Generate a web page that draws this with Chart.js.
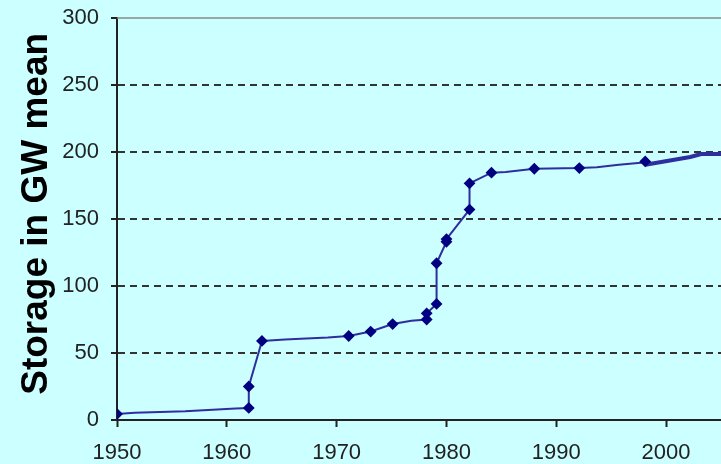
<!DOCTYPE html>
<html>
<head>
<meta charset="utf-8">
<script src="https://cdn.jsdelivr.net/npm/chart.js@4/dist/chart.umd.min.js"></script>
<style>
  html, body { margin: 0; padding: 0; background: #ccffff; }
  #wrap { width: 721px; height: 464px; }
</style>
</head>
<body>
<div id="wrap"><canvas id="storageChart" width="721" height="464"></canvas></div>
<script>
"use strict";

// line vertices (year, GW mean)
const years = [1950, 1951.6, 1956.2, 1960.8, 1962, 1962, 1963.2, 1965.3, 1969.2, 1971.1, 1973.1, 1975.1, 1976.8,
  1978.2, 1978.2, 1979.1, 1979.1, 1980, 1980, 1982.1, 1982.1, 1984.1, 1985.4, 1988, 1992.1, 1993.7, 1995.7,
  1997.7, 1998.1];
const storage = [4.5, 5.5, 6.5, 8.5, 9, 25, 59, 60, 61.5, 62.7, 66, 71.6, 74,
  75, 79.6, 86.6, 117, 133, 135, 157, 176.6, 184.6, 185, 187.5, 188, 188.6, 190.5,
  192, 193];
// which vertices carry a marker
const marked = [1, 0, 0, 0, 1, 1, 1, 0, 0, 1, 1, 1, 0,
  1, 1, 1, 1, 1, 1, 1, 1, 1, 0, 1, 1, 0, 0,
  0, 1];

// heavier tail of the curve after 1998
const tailYears = [1998.1, 2002.2, 2003.2, 2005];
const tailStorage = [190.5, 196.3, 198.5, 198.5];

const yTicks = [0, 50, 100, 150, 200, 250, 300];
const xTicks = [1950, 1960, 1970, 1980, 1990, 2000];

const lineColor = "#2e2e9e";
const markerColor = "#000080";
const tickFont = { family: "'Liberation Sans', Arial, sans-serif", size: 22 };

const topBorder = {
  id: "topBorder",
  afterDraw(chart) {
    const { ctx, chartArea } = chart;
    ctx.save();
    ctx.strokeStyle = "#888888";
    ctx.lineWidth = 1.5;
    ctx.beginPath();
    ctx.moveTo(chartArea.left, chartArea.top);
    ctx.lineTo(chartArea.right, chartArea.top);
    ctx.stroke();
    ctx.restore();
  },
};

const ctx = document.getElementById("storageChart").getContext("2d");

new Chart(ctx, {
  type: "line",
  data: {
    datasets: [
      {
        data: years.map((y, i) => ({ x: y, y: storage[i] })),
        borderColor: lineColor,
        borderWidth: 2,
        pointStyle: "rectRot",
        pointRadius: marked.map((m) => (m ? 4.5 : 0)),
        pointBackgroundColor: markerColor,
        pointBorderColor: markerColor,
        tension: 0,
      },
      {
        data: tailYears.map((y, i) => ({ x: y, y: tailStorage[i] })),
        borderColor: lineColor,
        borderWidth: 4,
        pointRadius: 0,
        tension: 0,
      },
    ],
  },
  options: {
    responsive: false,
    devicePixelRatio: 1,
    animation: false,
    layout: { autoPadding: false, padding: { top: 18, right: 0, left: 0, bottom: 0 } },
    plugins: {
      legend: { display: false },
      tooltip: { enabled: false },
    },
    scales: {
      x: {
        type: "linear",
        min: 1950,
        max: 2005,
        afterBuildTicks: (scale) => {
          scale.ticks = xTicks.map((v) => ({ value: v }));
        },
        afterFit: (scale) => {
          scale.height = 44;
          scale.paddingLeft = 0;
          scale.paddingRight = 0;
        },
        ticks: {
          font: tickFont,
          color: "#222222",
          padding: 13,
          maxRotation: 0,
          callback: (v) => String(v),
        },
        grid: {
          drawOnChartArea: false,
          tickLength: 7,
          tickColor: "#222222",
          tickWidth: 2,
        },
        border: { color: "#222222", width: 2 },
      },
      y: {
        min: 0,
        max: 300,
        afterBuildTicks: (scale) => {
          scale.ticks = yTicks.map((v) => ({ value: v }));
        },
        afterFit: (scale) => {
          scale.width = 117;
          scale.paddingTop = 0;
          scale.paddingBottom = 0;
        },
        ticks: {
          font: tickFont,
          color: "#222222",
          padding: 12,
          callback: (v) => String(v),
        },
        grid: {
          color: (c) => (c.tick && (c.tick.value === 0 || c.tick.value === 300) ? "rgba(0,0,0,0)" : "#333333"),
          lineWidth: 2,
          tickLength: 6,
          tickColor: "#222222",
          tickWidth: 2,
        },
        border: { color: "#222222", width: 2, dash: [7, 5] },
        title: {
          display: true,
          text: " Storage in GW mean",
          color: "#000000",
          font: { family: "'Liberation Sans', Arial, sans-serif", size: 37, weight: "bold" },
          padding: { top: 15, bottom: 0 },
        },
      },
    },
  },
  plugins: [topBorder],
});
</script>
</body>
</html>
